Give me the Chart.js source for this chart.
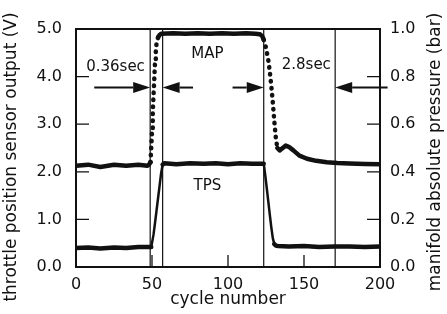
<!DOCTYPE html>
<html>
<head>
<meta charset="utf-8">
<script src="https://cdn.jsdelivr.net/npm/chart.js@4.4.1/dist/chart.umd.min.js"></script>
<style>
  html, body { margin: 0; padding: 0; background: #fff; }
  #wrap { width: 447px; height: 314px; }
</style>
</head>
<body>
<div id="wrap"><canvas id="chartMotor" width="447" height="314"></canvas></div>
<script>
// Throttle position sensor output (V) per cycle
const tpsCycle = [0, 8, 16, 25, 33, 41, 49.5, 51, 52, 53, 54, 55, 56, 57, 58, 66, 75, 84, 92, 100, 108, 116,
  123.5, 124.5, 125.5, 126.5, 127.5, 128.5, 129.5, 130.5, 131.5, 133, 140, 150, 160, 170, 180, 190, 200];
const tpsVolt = [0.40, 0.41, 0.39, 0.41, 0.40, 0.42, 0.42, 0.68, 0.93, 1.19, 1.45, 1.71, 1.97, 2.15, 2.18, 2.16, 2.18, 2.17, 2.18, 2.16, 2.18, 2.17,
  2.17, 1.93, 1.66, 1.38, 1.10, 0.83, 0.60, 0.48, 0.45, 0.44, 0.43, 0.44, 0.42, 0.43, 0.43, 0.42, 0.43];

// Manifold absolute pressure (bar) per cycle
const mapCycle = [0, 8, 16, 25, 33, 41, 47, 48, 49, 49.5, 50, 50.5, 51, 51.5, 52, 52.5, 53, 54, 55, 56,
  64, 72, 80, 88, 96, 104, 112, 118, 121, 122.5, 123.5, 124.5, 125.5, 126.5, 127.5, 128.5, 129.5, 130.5, 131.5, 132.5,
  134, 136, 138, 140, 143, 147, 152, 158, 165, 172, 180, 190, 200];
const mapBar = [0.425, 0.43, 0.42, 0.43, 0.425, 0.43, 0.425, 0.43, 0.44, 0.50, 0.57, 0.65, 0.72, 0.79, 0.86, 0.91, 0.94, 0.965, 0.975, 0.98,
  0.982, 0.98, 0.982, 0.98, 0.982, 0.98, 0.982, 0.98, 0.978, 0.97, 0.955, 0.935, 0.905, 0.87, 0.82, 0.76, 0.69, 0.61, 0.54, 0.50,
  0.49, 0.50, 0.51, 0.505, 0.49, 0.468, 0.455, 0.446, 0.44, 0.437, 0.435, 0.433, 0.432];

// Reference cycles (vertical lines) and annotations
const markCycles = [48.8, 57, 123.5, 170.5];
const notes = ['0.36sec', 'MAP', '2.8sec', 'TPS'];

const fuente = 'DejaVu Sans';
const negro = '#111';

// dotted where the trace is steep
function steep(ctx) {
  const dx = Math.abs(ctx.p1.x - ctx.p0.x);
  const dy = Math.abs(ctx.p1.y - ctx.p0.y);
  return dy > 4 && dy > 2.5 * dx;
}

function arrow(c, x0, x1, y) {
  const dir = x1 > x0 ? 1 : -1;
  const head = 17;
  c.beginPath();
  c.moveTo(x0, y);
  c.lineTo(x1 - dir * head, y);
  c.lineWidth = 2;
  c.stroke();
  c.beginPath();
  c.moveTo(x1, y);
  c.lineTo(x1 - dir * head, y - 5.5);
  c.lineTo(x1 - dir * head, y + 5.5);
  c.closePath();
  c.fill();
}

const extras = {
  id: 'extras',
  beforeDatasetsDraw(chart) {
    const { ctx: c, chartArea: a, scales: { x } } = chart;
    c.save();
    c.strokeStyle = negro;
    c.lineWidth = 1.2;
    markCycles.forEach(v => {
      const px = x.getPixelForValue(v);
      c.beginPath();
      c.moveTo(px, a.top);
      c.lineTo(px, a.bottom);
      c.stroke();
    });
    c.restore();
  },
  afterDraw(chart) {
    const { ctx: c, chartArea: a, scales: { x, y, y1 } } = chart;
    c.save();
    c.strokeStyle = negro;
    c.fillStyle = negro;

    // frame
    c.lineWidth = 2;
    c.strokeRect(a.left, a.top, a.right - a.left, a.bottom - a.top);

    // inward tick marks
    c.lineWidth = 1.3;
    c.beginPath();
    y.ticks.forEach(t => {
      const py = y.getPixelForValue(t.value);
      c.moveTo(a.left, py); c.lineTo(a.left + 13, py);
    });
    y1.ticks.forEach(t => {
      const py = y1.getPixelForValue(t.value);
      c.moveTo(a.right, py); c.lineTo(a.right - 13, py);
    });
    x.ticks.forEach(t => {
      const px = x.getPixelForValue(t.value);
      c.moveTo(px, a.bottom); c.lineTo(px, a.bottom - 12);
    });
    c.stroke();

    // arrows
    const ay = y.getPixelForValue(3.77);
    arrow(c, x.getPixelForValue(12), x.getPixelForValue(markCycles[0]), ay);
    arrow(c, x.getPixelForValue(77), x.getPixelForValue(markCycles[1]), ay);
    arrow(c, x.getPixelForValue(103), x.getPixelForValue(markCycles[2]), ay);
    arrow(c, x.getPixelForValue(205), x.getPixelForValue(markCycles[3]), ay);

    // labels
    c.textAlign = 'center';
    c.textBaseline = 'middle';
    c.font = '15px "' + fuente + '"';
    c.fillText(notes[0], x.getPixelForValue(26), y.getPixelForValue(4.2));
    c.fillText(notes[1], x.getPixelForValue(86.5), y.getPixelForValue(4.48));
    c.fillText(notes[2], x.getPixelForValue(151.5), y.getPixelForValue(4.25));
    c.fillText(notes[3], x.getPixelForValue(86.5), y.getPixelForValue(1.7));

    // axis titles, both read bottom to top
    c.font = '17px "' + fuente + '"';
    c.translate(12, 157);
    c.rotate(-Math.PI / 2);
    c.fillText('throttle position sensor output (V)', 0, 0);
    c.setTransform(1, 0, 0, 1, 0, 0);
    c.translate(436, 152);
    c.rotate(-Math.PI / 2);
    c.fillText('manifold absolute pressure (bar)', 0, 0);
    c.restore();
  }
};

const tickFont = { family: fuente, size: 16 };

new Chart(document.getElementById('chartMotor'), {
  type: 'line',
  data: {
    datasets: [{
      label: 'TPS',
      data: tpsCycle.map((c, i) => ({ x: c, y: tpsVolt[i] })),
      yAxisID: 'y',
      borderColor: negro,
      borderWidth: 4.5,
      borderCapStyle: 'round',
      borderJoinStyle: 'round',
      pointRadius: 0,
      segment: {
        borderWidth: ctx => steep(ctx) ? 2.5 : 4.5
      }
    }, {
      label: 'MAP',
      data: mapCycle.map((c, i) => ({ x: c, y: mapBar[i] })),
      yAxisID: 'y1',
      borderColor: negro,
      borderWidth: 4.5,
      borderCapStyle: 'round',
      borderJoinStyle: 'round',
      pointRadius: 0,
      segment: {
        borderDash: ctx => steep(ctx) ? [0.5, 6.5] : undefined
      }
    }]
  },
  options: {
    responsive: false,
    animation: false,
    layout: { padding: { top: 29, left: 0, right: 0, bottom: 0 } },
    plugins: {
      legend: { display: false },
      tooltip: { enabled: false }
    },
    scales: {
      x: {
        type: 'linear',
        min: 0,
        max: 200,
        grid: { display: false, drawTicks: false },
        border: { display: false },
        ticks: { stepSize: 50, color: negro, font: tickFont, padding: 8, maxRotation: 0 },
        title: { display: true, text: 'cycle number', color: negro, font: { family: fuente, size: 17 }, padding: { top: 0, bottom: 4 } },
        afterFit: s => { s.height = 47; }
      },
      y: {
        position: 'left',
        min: 0,
        max: 5,
        grid: { display: false, drawTicks: false },
        border: { display: false },
        ticks: { stepSize: 1, color: negro, font: tickFont, padding: 14, callback: v => v.toFixed(1) },
        afterFit: s => { s.width = 76; }
      },
      y1: {
        position: 'right',
        min: 0,
        max: 1,
        grid: { display: false, drawTicks: false },
        border: { display: false },
        ticks: { stepSize: 0.2, color: negro, font: tickFont, padding: 10, callback: v => v.toFixed(1) },
        afterFit: s => { s.width = 67; }
      }
    }
  },
  plugins: [extras]
});
</script>
</body>
</html>
